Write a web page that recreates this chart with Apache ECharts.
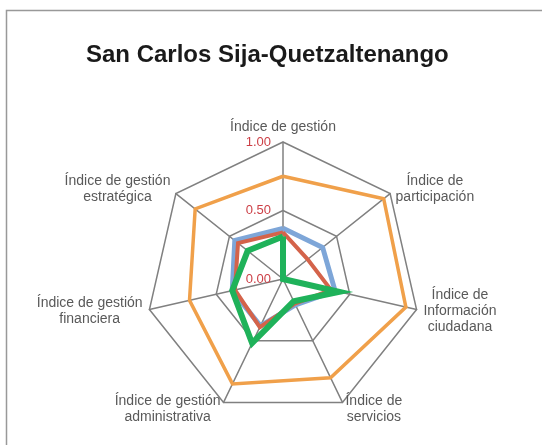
<!DOCTYPE html>
<html>
<head>
<meta charset="utf-8">
<script src="https://cdn.jsdelivr.net/npm/echarts@6/dist/echarts.min.js"></script>
<style>
  html, body { margin: 0; padding: 0; background: #fff; }
  #chart { width: 542px; height: 445px; }
</style>
</head>
<body>
<div id="chart"></div>
<script>
// indicators in ECharts order (counter-clockwise from the top)
const indicators = [
  "Índice de gestión",
  "Índice de gestión\nestratégica",
  "Índice de gestión\nfinanciera",
  "Índice de gestión\nadministrativa",
  "Índice de\nservicios",
  "Índice de\nInformación\nciudadana",
  "Índice de\nparticipación"
];

// series values, same order as indicators
const serieNaranja = [0.75, 0.82, 0.70, 0.85, 0.80, 0.92, 0.94];
const serieAzul = [0.37, 0.45, 0.38, 0.38, 0.21, 0.39, 0.37];
const serieRoja = [0.34, 0.42, 0.36, 0.39, 0.20, 0.36, 0.23];
const serieVerde = [0.31, 0.33, 0.38, 0.52, 0.18, 0.42, 0.00];

const font = "'Liberation Sans', Arial, sans-serif";
const gridColor = "#808080";

const line = (name, data, color, width) => ({
  type: "radar",
  symbol: "none",
  data: [{ name: name, value: data }],
  lineStyle: { color: color, width: width, join: "miter" },
  itemStyle: { color: color },
  areaStyle: null
});

const option = {
  animation: false,
  title: {
    text: "San Carlos Sija-Quetzaltenango",
    left: 81,
    top: 38,
    textStyle: { fontFamily: font, fontSize: 24, fontWeight: "bold", color: "#1a1a1a" }
  },
  graphic: [{
    type: "rect",
    shape: { x: 6.5, y: 10.5, width: 600, height: 500 },
    style: { fill: null, stroke: "#999", lineWidth: 1.5 },
    silent: true
  }],
  radar: {
    center: [283, 279],
    radius: 137,
    splitNumber: 2,
    shape: "polygon",
    indicator: indicators.map((n, i) => {
      const ind = { name: n, min: 0, max: 1 };
      if (i === 0) {
        ind.axisLabel = {
          show: true,
          color: "#cc3f46",
          fontSize: 13,
          fontFamily: font,
          margin: 12,
          formatter: v => Number(v).toFixed(2)
        };
      }
      return ind;
    }),
    nameGap: 7,
    axisName: {
      color: "#595959",
      fontSize: 14,
      fontFamily: font,
      lineHeight: 16,
      formatter: n => n.split("\n").map(s => "{c|" + s + "}").join("\n"),
      rich: { c: { align: "center", color: "#595959", fontSize: 14, fontFamily: font, lineHeight: 16 } }
    },
    axisLine: { lineStyle: { color: gridColor, width: 1.5 } },
    splitLine: { lineStyle: { color: gridColor, width: 1.5 } },
    splitArea: { show: false },
    axisLabel: { show: false },
    axisTick: { show: false }
  },
  series: [
    line("Serie 1", serieAzul, "#7ea6d8", 5),
    line("Serie 2", serieRoja, "#d4634a", 4),
    line("Serie 3", serieNaranja, "#f0a04a", 3.5),
    line("Serie 4", serieVerde, "#1fb25a", 6)
  ]
};

const myChart = echarts.init(document.getElementById("chart"));
myChart.setOption(option);
</script>
</body>
</html>
